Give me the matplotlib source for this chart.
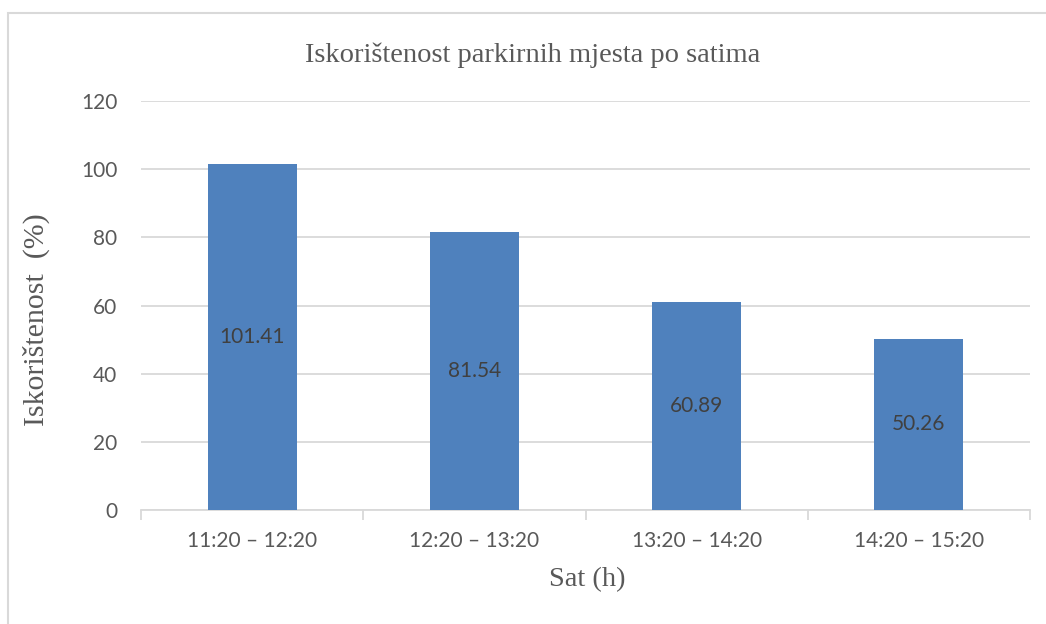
import matplotlib
matplotlib.use("Agg")
import matplotlib.pyplot as plt
from matplotlib.patches import Rectangle
import numpy as np

# podaci
sati = ["11:20 – 12:20", "12:20 – 13:20", "13:20 – 14:20", "14:20 – 15:20"]
iskoristenost = [101.41, 81.54, 60.89, 50.26]
y_ticks = [0, 20, 40, 60, 80, 100, 120]

plava = "#4f81bd"
siva_tekst = "#595959"
siva_linija = "#d9d9d9"

fig = plt.figure(figsize=(10.46, 6.24), dpi=100)
ax = fig.add_axes([141/1046, 1 - 510/624, (1030-141)/1046, (510-101)/624])

x = np.arange(len(sati))
bars = ax.bar(x, iskoristenost, width=0.4, color=plava, zorder=3)

for b, v in zip(bars, iskoristenost):
    ax.text(b.get_x() + b.get_width()/2, v/2, "%.2f" % v, ha="center", va="center",
            fontsize=15, color="#404040", family="Lato", zorder=4)

ax.set_xlim(-0.5, len(sati) - 0.5)
ax.set_ylim(0, 120)
ax.set_yticks(y_ticks)
ax.yaxis.grid(True, color=siva_linija, lw=1.3, zorder=0)
ax.set_xticks(x)
ax.set_xticklabels(sati)
ax.tick_params(axis="both", length=0, labelsize=15, labelcolor=siva_tekst)
for lbl in ax.get_xticklabels() + ax.get_yticklabels():
    lbl.set_family("Lato")
ax.tick_params(axis="x", pad=15)
ax.tick_params(axis="y", pad=17)

# crtice izmedju kategorija
ax.set_xticks(np.arange(-0.5, len(sati)), minor=True)
ax.tick_params(axis="x", which="minor", length=7, color=siva_linija, width=1.3, direction="out")

for s in ["top", "right", "left"]:
    ax.spines[s].set_visible(False)
ax.spines["bottom"].set_color(siva_linija)
ax.spines["bottom"].set_linewidth(1.3)

serif = dict(family="Liberation Serif", fontsize=20.5, color=siva_tekst)
fig.text(533/1046, 1 - 55/624, "Iskorištenost parkirnih mjesta po satima", ha="center", va="center", **serif)
fig.text(36/1046, 1 - 320/624, "Iskorištenost  (%)", ha="center", va="center", rotation=90,
         family="Liberation Serif", fontsize=21.5, color=siva_tekst)
fig.text(587/1046, 1 - 580/624, "Sat (h)", ha="center", va="center", **serif)

# okvir grafikona
fig.patches.append(Rectangle((8/1046, -0.1), 1.1, 1 - 13/624 + 0.1, transform=fig.transFigure,
                             fill=False, edgecolor=siva_linija, lw=1.5))

fig.savefig("out.png", dpi=100)
